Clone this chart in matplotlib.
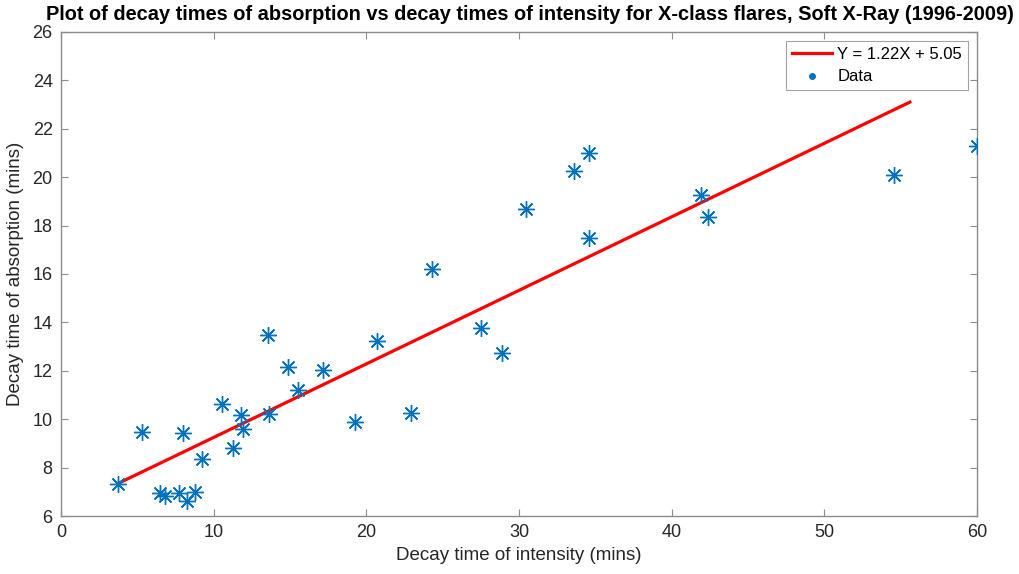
import matplotlib
matplotlib.use("Agg")
import matplotlib.pyplot as plt
from matplotlib.lines import Line2D

plt.rcParams['font.family'] = ['Liberation Sans', 'DejaVu Sans']

# decay times (mins)
intensity = [3.75, 5.28, 6.48, 6.81, 7.75, 8.0, 8.27, 8.78, 9.21, 10.54,
             11.24, 11.79, 11.94, 13.58, 13.64, 14.87, 15.54, 17.18, 19.27,
             20.67, 22.95, 24.3, 27.5, 28.9, 30.45, 33.6, 34.58, 34.58,
             41.9, 42.35, 54.55, 60.0]
absorption = [7.33, 9.49, 6.94, 6.84, 6.94, 9.42, 6.63, 6.99, 8.35, 10.61,
              8.8, 10.17, 9.59, 13.47, 10.22, 12.14, 11.22, 12.02, 9.88,
              13.22, 10.25, 16.2, 13.77, 12.74, 18.7, 20.24, 20.99, 17.5,
              19.25, 18.37, 20.09, 21.3]

# fitted line as drawn
fit_x = [3.75, 55.6]
fit_slope = 0.3038
fit_intercept = 6.21
fit_label = "Y = 1.22X + 5.05"

xticks = [0, 10, 20, 30, 40, 50, 60]
yticks = [6, 8, 10, 12, 14, 16, 18, 20, 22, 24, 26]

blue = "#0072BD"
axis_gray = "#8c8c8c"
text_gray = "#262626"

fig = plt.figure(figsize=(10.19, 5.74), dpi=100)
ax = fig.add_axes([0.0599, 0.101, 0.8989, 0.8433])

fit_y = [fit_slope * x + fit_intercept for x in fit_x]
ax.plot(fit_x, fit_y, color="red", linewidth=2.3, zorder=2)
ax.plot(intensity, absorption, linestyle="none", marker=(8, 2, 0),
        markersize=12, markeredgewidth=1.0, color=blue, zorder=3)

ax.set_xlim(0, 60)
ax.set_ylim(6, 26)
ax.set_xticks(xticks)
ax.set_yticks(yticks)

for s in ax.spines.values():
    s.set_color(axis_gray)
    s.set_linewidth(1.0)
ax.tick_params(direction="in", top=True, right=True, length=5,
               color=axis_gray, labelcolor=text_gray, labelsize=13, pad=6)

ax.set_xlabel("Decay time of intensity (mins)", fontsize=13.5, color=text_gray, labelpad=4)
ax.set_ylabel("Decay time of absorption (mins)", fontsize=13.5, color=text_gray, labelpad=6)
fig.text(0.52, 0.975,
         "Plot of decay times of absorption vs decay times of intensity for X-class flares, Soft X-Ray (1996-2009)",
         fontsize=14.4, fontweight="bold", color="black", ha="center", va="center")

handles = [Line2D([], [], color="red", linewidth=2.3),
           Line2D([], [], linestyle="none", marker=".", markersize=8, color=blue)]
leg = ax.legend(handles, [fit_label, "Data"], loc="upper right", fontsize=12,
                frameon=True, fancybox=False, borderpad=0.35, labelspacing=0.45,
                handlelength=2.4, handletextpad=0.3, borderaxespad=0.55)
leg.get_frame().set_edgecolor(axis_gray)
leg.get_frame().set_linewidth(0.8)

fig.savefig("out.png", dpi=100)
